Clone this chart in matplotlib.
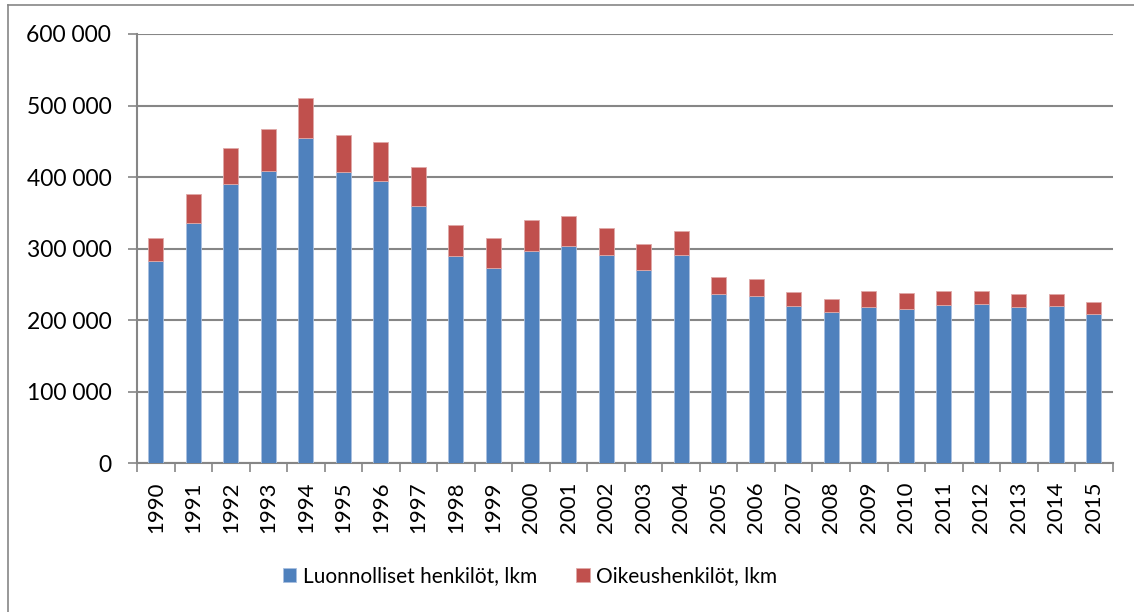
import matplotlib
matplotlib.use("Agg")
import matplotlib.pyplot as plt
from matplotlib.lines import Line2D
from matplotlib.ticker import FuncFormatter, FixedLocator
import numpy as np

plt.rcParams['font.family'] = ['Lato', 'DejaVu Sans']

# data
years = [str(y) for y in range(1990, 2016)]
luonnolliset = [283000, 336000, 391000, 409000, 455000, 407000, 395000, 360000,
                290000, 273000, 297000, 304000, 291000, 270000, 291000, 236000,
                234000, 220000, 212000, 219000, 216000, 221000, 223000, 218000,
                220000, 209000]
yhteensa = [315000, 377000, 440000, 467000, 511000, 459000, 449000, 414000,
            333000, 315000, 340000, 345000, 329000, 306000, 324000, 261000,
            258000, 240000, 230000, 241000, 238000, 241000, 241000, 237000,
            237000, 226000]
oikeus = [t - l for t, l in zip(yhteensa, luonnolliset)]
legends = ["Luonnolliset henkilöt, lkm", "Oikeushenkilöt, lkm"]

fig = plt.figure(figsize=(11.34, 6.12), dpi=100)
ax = fig.add_axes([137/1134, 1 - 463.3/612, (1112.7 - 137)/1134, (463.3 - 34)/612])

X = np.arange(len(years))
ax.bar(X, luonnolliset, width=0.4, color='#4F81BD', label=legends[0],
       edgecolor='#a9c0e0', linewidth=0.6, zorder=3)
ax.bar(X, oikeus, bottom=luonnolliset, width=0.4, color='#C0504D',
       label=legends[1], edgecolor='#e0a9a8', linewidth=0.6, zorder=3)

ax.set_xlim(-0.5, len(years) - 0.5)
ax.set_ylim(0, 600000)
ax.set_yticks(range(0, 600001, 100000))
ax.yaxis.set_major_formatter(FuncFormatter(lambda v, p: f"{int(v):,}".replace(",", " ")))
ax.grid(axis='y', color='#868686', linewidth=1.5, zorder=0)

ax.set_xticks(X)
ax.set_xticklabels(years, rotation=90)
ax.xaxis.set_minor_locator(FixedLocator(np.arange(-0.5, len(years), 1)))
ax.tick_params(axis='x', which='major', length=0, pad=13, labelsize=16)
ax.tick_params(axis='x', which='minor', length=6.5, width=1.2, color='#868686')
ax.tick_params(axis='y', length=6.5, width=1.2, color='#868686', pad=12, labelsize=16.5)

for s in ['top', 'right']:
    ax.spines[s].set_visible(False)
for s in ['left', 'bottom']:
    ax.spines[s].set_color('#868686')
    ax.spines[s].set_linewidth(1.5)

fig.legend(loc='center', bbox_to_anchor=(530/1134, 1 - 576/612), ncol=2, frameon=False,
           fontsize=15, handlelength=0.65, handleheight=0.65, handletextpad=0.3,
           columnspacing=1.9)

# outer chart border (left and top edges visible)
fig.add_artist(Line2D([8/1134, 8/1134], [0, 1 - 5/612], transform=fig.transFigure,
                      color='#868686', linewidth=1.2))
fig.add_artist(Line2D([8/1134, 1], [1 - 5/612, 1 - 5/612], transform=fig.transFigure,
                      color='#868686', linewidth=1.2))

fig.savefig("out.png", dpi=100)
